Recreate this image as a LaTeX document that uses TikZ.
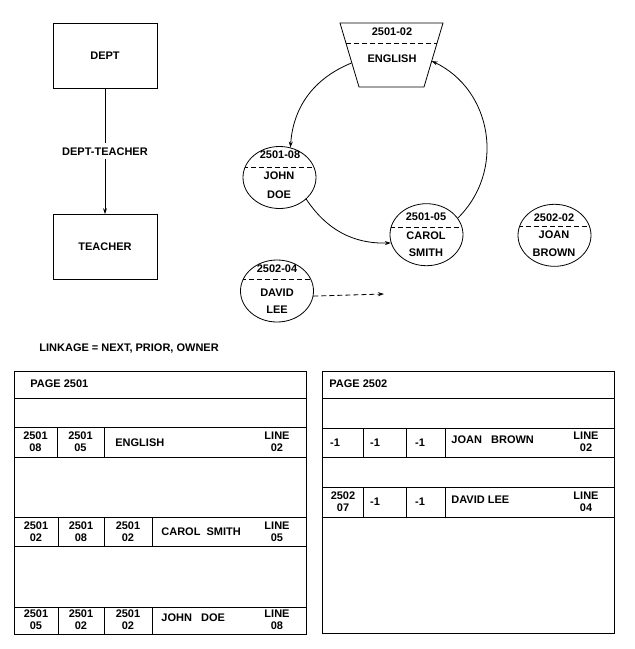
\documentclass[tikz,border=0pt]{standalone}
\usepackage{fontspec}
\setmainfont{Liberation Sans}
\usetikzlibrary{arrows.meta,shapes.geometric}
\begin{document}
\begin{tikzpicture}[x=1pt,y=-1pt, line width=0.8pt,
  font=\fontsize{11}{12}\selectfont\bfseries,
  every node/.style={inner sep=0pt},
  box/.style={draw, minimum width=104pt, minimum height=65pt},
  rec/.style={ellipse, draw, minimum width=73pt, minimum height=62pt},
  divline/.style={path picture={\draw[dash pattern=on 5pt off 3pt] ([yshift=#1]path picture bounding box.west) -- ([yshift=#1]path picture bounding box.east);}},
  tip/.style={-{Stealth[length=6pt,width=4pt]}},
  cell/.style={align=center},
  txt/.style={anchor=west}]
\useasboundingbox (0,0) rectangle (635,649);

% ---- schema ----
\node[box] (dept) at (105,55.5) {DEPT};
\node[box] (teacher) at (105,247) {TEACHER};
\draw[tip] (dept) -- (teacher) node[midway, fill=white, inner sep=4pt] (set) {DEPT-TEACHER};

% ---- owner record (trapezoid) ----
\coordinate (t1) at (340,23);
\coordinate (t2) at (443,23);
\coordinate (t3) at (424,87);
\coordinate (t4) at (359,87);
\draw (t1) -- (t2) -- (t3) -- (t4) -- cycle;
\coordinate (dl) at (345.8,43);
\coordinate (dr) at (437,43);
\draw[dash pattern=on 5pt off 3pt] (dl) -- (dr);
\node (engkey) at (392,32) {2501-02};
\node (engname) at (392,59) {ENGLISH};
\coordinate (engL) at (351.5,63);
\coordinate (engR) at (431.7,61);

% ---- member records ----
\node[rec, divline=10.5pt] (john) at (279.5,177.5) {};
\node (johnkey) at (280,155) {2501-08};
\node (johnn1) at (279,176) {JOHN};
\node (johnn2) at (279,195) {DOE};

\node[rec, divline=7pt] (carol) at (426.5,234.7) {};
\node (carolkey) at (426,216.7) {2501-05};
\node (caroln1) at (426,236) {CAROL};
\node (caroln2) at (426,252.3) {SMITH};

\node[rec, divline=8.6pt] (joan) at (554.5,235.3) {};
\node (joankey) at (554,217.7) {2502-02};
\node (joann1) at (554,235) {JOAN};
\node (joann2) at (554,252.3) {BROWN};

\node[rec, divline=11.7pt] (david) at (277,291) {};
\node (davidkey) at (277,268.3) {2502-04};
\node (davidn1) at (277,292.3) {DAVID};
\node (davidn2) at (277,310) {LEE};
\coordinate (dv) at (384,294);

\draw[tip] (engL) to[bend right=32] (john.70);
\draw[tip] (john.-39) to[bend right=29] (carol.193);
\draw[tip] (carol.28) to[bend right=55, looseness=1.08] (engR);
\draw[tip, dash pattern=on 5pt off 3pt] (david.-8) -- (dv);

% ---- linkage ----
\node[txt] (linkage) at (39,349) {LINKAGE = NEXT, PRIOR, OWNER};

% ---- page 2501 ----
\draw (14,371) rectangle (306,634);
\foreach \yy in {398,427,457,517,546,607} \draw (14,\yy) -- (306,\yy);
\draw (57,427) -- (57,457);
\draw (104,427) -- (104,457);
\draw (58,517) -- (58,546);
\draw (104,517) -- (104,546);
\draw (152,517) -- (152,546);
\draw (58,607) -- (58,634);
\draw (104,607) -- (104,634);
\draw (152,607) -- (152,634);
\node[txt] (p1) at (30,384) {PAGE 2501};
\node[cell] (a11) at (35.5,442) {2501\\08};
\node[cell] (a12) at (80.5,442) {2501\\05};
\node[txt] (a13) at (115,443) {ENGLISH};
\node[cell] (a14) at (277,442) {LINE\\02};
\node[cell] (a21) at (36,531.5) {2501\\02};
\node[cell] (a22) at (81,531.5) {2501\\08};
\node[cell] (a23) at (128,531.5) {2501\\02};
\node[txt] (a24) at (161,532) {CAROL\ \ SMITH};
\node[cell] (a25) at (277,531.5) {LINE\\05};
\node[cell] (a31) at (36,619.5) {2501\\05};
\node[cell] (a32) at (81,619.5) {2501\\02};
\node[cell] (a33) at (128,619.5) {2501\\02};
\node[txt] (a34) at (161,618) {JOHN\ \ \ DOE};
\node[cell] (a35) at (277,619.5) {LINE\\08};

% ---- page 2502 ----
\draw (322,371) rectangle (614,633);
\foreach \yy in {398,428,457,487,517} \draw (322,\yy) -- (614,\yy);
\draw (363,428) -- (363,457);
\draw (406,428) -- (406,457);
\draw (445,428) -- (445,457);
\draw (363,487) -- (363,517);
\draw (406,487) -- (406,517);
\draw (445,487) -- (445,517);
\node[txt] (p2) at (329,384) {PAGE 2502};
\node (b11) at (335,442.5) {-1};
\node (b12) at (375,442.5) {-1};
\node (b13) at (420,442.5) {-1};
\node[txt] (b14) at (451,440) {JOAN\ \ \ BROWN};
\node[cell] (b15) at (586,442) {LINE\\02};
\node[cell] (b21) at (343,502) {2502\\07};
\node (b22) at (375,502) {-1};
\node (b23) at (420,502) {-1};
\node[txt] (b24) at (451,500) {DAVID LEE};
\node[cell] (b25) at (586,502) {LINE\\04};
\end{tikzpicture}
\end{document}
